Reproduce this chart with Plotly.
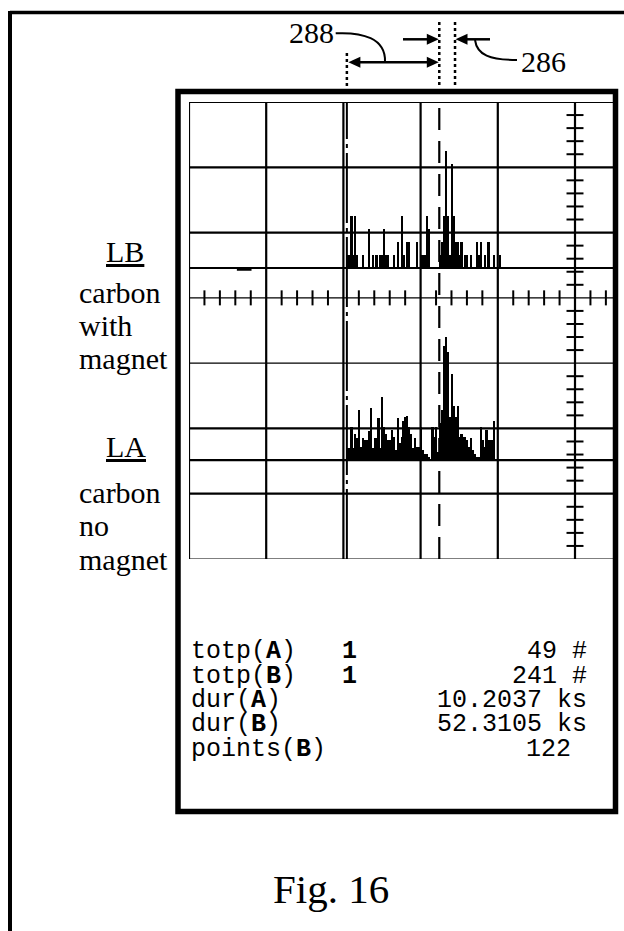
import plotly.graph_objects as go

FIG_W, FIG_H = 624, 931

# ---------------------------------------------------------------- data
BIN_DIV = 0.025        # histogram bin width, horizontal divisions
COUNTS_PER_DIV = 5     # vertical sensitivity

# LB - carbon with magnet (upper channel), counts per bin
lb_counts = [1, 1, 4, 1, 4, 1, 0, 0, 1, 0,
             0, 3, 0, 1, 0, 1, 0, 1, 1, 3,
             1, 1, 0, 0, 1, 0, 2, 0, 4, 1,
             0, 2, 2, 0, 0, 0, 2, 0, 1, 1,
             1, 4, 3, 0, 0, 0, 0, 0, 1, 2,
             4, 9, 4, 1, 8, 4, 2, 2, 1, 2,
             0, 1, 1, 0, 1, 0, 0, 2, 1, 2,
             0, 1, 0, 2, 0, 0, 1, 0, 0, 1]

# LA - carbon no magnet (lower channel), counts per bin
la_counts = [0.9, 0.9, 2.5, 0.9, 2.0, 1.7, 3.8, 1.0, 1.7, 1.5,
             1.5, 2.2, 4.0, 0.9, 1.7, 1.7, 3.2, 0.9, 4.8, 2.5,
             2.0, 1.5, 1.5, 2.3, 1.8, 0.8, 3.2, 1.3, 1.8, 3.0,
             3.3, 3.4, 2.5, 2.0, 0.9, 1.7, 1.0, 1.0, 2.5, 0.8,
             0.5, 0.5, 0.25, 0.0, 2.5, 1.8, 2.5, 0.6, 2.8, 3.8,
             8.7, 9.4, 8.3, 3.3, 6.6, 4.1, 3.3, 4.1, 1.8, 2.0,
             1.8, 1.8, 1.5, 1.0, 1.7, 0.8, 0.5, 0.25, 0.25, 2.5,
             1.5, 1.0, 2.3, 1.5, 1.5, 1.5, 3.0]

# cursors, horizontal divisions
cursor_start = 2.045
cursor_peak = 3.242
cursor_ref = 3.446

# channel baselines, vertical divisions
lb_base = 4.457
la_base = 1.516

readout_names = ["totp(<b>A</b>)", "totp(<b>B</b>)", "dur(<b>A</b>)",
                 "dur(<b>B</b>)", "points(<b>B</b>)"]
readout_values = ["49 #", "241 #", "10.2037 ks", "52.3105 ks", "122"]
readout_marks = ["<b>1</b>", "<b>1</b>", "", "", ""]

# ------------------------------------------------------------ geometry
SCR_L, SCR_R, SCR_T, SCR_B = 189, 613, 102, 559
DIV_X = 77.2
N_DIV_Y = 7
DIV_Y = (SCR_B - SCR_T) / N_DIV_Y
X_MAX = (SCR_R - SCR_L) / DIV_X


def div_to_px(x):
    return SCR_L + x * DIV_X


def px(x):
    return x / FIG_W


def py(y):
    return 1 - y / FIG_H


shapes = []
annotations = []


def line(x0, y0, x1, y1, w, ref="px", dash=None):
    ln = dict(color="black", width=w)
    if dash:
        ln["dash"] = dash
    if ref == "px":
        shapes.append(dict(type="line", x0=px(x0), y0=py(y0), x1=px(x1),
                           y1=py(y1), xref="paper", yref="paper", line=ln,
                           layer="above"))
    else:
        shapes.append(dict(type="line", x0=x0, y0=y0, x1=x1, y1=y1,
                           xref="x", yref="y", line=ln, layer="above"))


def path(points, w=0, fill=False, curve=False):
    p = [(px(a), py(b)) for a, b in points]
    if curve:
        d = "M {},{} C {},{} {},{} {},{}".format(*[v for pt in p for v in pt])
    else:
        d = "M " + " L ".join(f"{a},{b}" for a, b in p) + " Z"
    shapes.append(dict(type="path", path=d, xref="paper", yref="paper",
                       fillcolor="black" if fill else "rgba(0,0,0,0)",
                       line=dict(color="black", width=w), layer="above"))


def head(tip, y, direction, length=12, half=5.5):
    base = tip - direction * length
    path([(tip, y), (base, y - half), (base, y + half)], fill=True)


def text(x, y, s, size, family, xanchor="left"):
    annotations.append(dict(x=px(x), y=py(y), xref="paper", yref="paper",
                            text=s, showarrow=False, xanchor=xanchor,
                            yanchor="middle",
                            font=dict(family=family, size=size, color="black")))


# page frame
line(10, 12.5, FIG_W, 12.5, 3.5)
line(10, 11, 10, FIG_H, 4)

# instrument box
shapes.append(dict(type="rect", x0=px(178), y0=py(91.5), x1=px(615.5),
                   y1=py(811.5), xref="paper", yref="paper",
                   line=dict(color="black", width=5.5), layer="above"))

# screen graticule
thin_rows = {0, 3, 4}
for j in range(N_DIV_Y + 1):
    line(0, j, X_MAX, j, 1.2 if j in thin_rows else 2.2, ref="div")
for i in range(6):
    line(i, 0, i, N_DIV_Y, 2.2, ref="div")
for b in (lb_base, la_base):
    line(0, b, X_MAX, b, 2.2, ref="div")

# graticule minor ticks on the centre axes
for j in range(N_DIV_Y):
    for k in range(1, 5):
        yy = j + k / 5
        line(5 - 0.11, yy, 5 + 0.11, yy, 2, ref="div")
for i in range(6):
    for k in range(1, 5):
        xx = i + k / 5
        if xx < X_MAX - 0.05:
            line(xx, 4 - 0.115, xx, 4 + 0.115, 2, ref="div")

# small trace marker left of the upper channel
line(div_to_px(0.62), 269.5, div_to_px(0.81), 269.5, 2.5)

# cursors inside the screen
line(cursor_start, 0, cursor_start, N_DIV_Y, 2, ref="div",
     dash="70px,5px,4px,5px")
line(cursor_peak, 0, cursor_peak, N_DIV_Y, 2.2, ref="div", dash="22px,11px")

# cursor extensions above the box
xs, xp, xr = div_to_px(cursor_start), div_to_px(cursor_peak), div_to_px(cursor_ref)
line(xs, 53, xs, 88, 2.5, dash="dot")
line(xp, 22, xp, 88, 2.5, dash="dot")
line(xr, 22, xr, 88, 2.5, dash="dot")

# dimension arrows
line(xs + 8, 62.3, xp - 8, 62.3, 2.5)
head(xs + 1.5, 62.3, -1)
head(xp - 0.5, 62.3, 1)
line(403, 39.3, xp - 8, 39.3, 2.5)
head(xp - 0.5, 39.3, 1)
line(xr + 8, 39.3, 490, 39.3, 2.5)
head(xr + 0.5, 39.3, -1)

# leaders
path([(335.7, 33.3), (362, 32), (386, 38), (385, 62)], w=2, curve=True)
path([(475, 40), (477, 55), (490, 60), (517, 60)], w=2, curve=True)

# labels
SERIF = "Liberation Serif"
MONO = "Liberation Mono"
text(311, 32.8, "288", 30, SERIF, "center")
text(543, 61.8, "286", 30, SERIF, "center")

text(104, 251.8, "<u>LB</u>", 30, SERIF)
text(77, 292.8, "carbon", 30, SERIF)
text(77, 325.8, "with", 30, SERIF)
text(77, 358.8, "magnet", 30, SERIF)
text(104, 446.3, "<u>LA</u>", 30, SERIF)
text(77, 492.8, "carbon", 30, SERIF)
text(77, 525.8, "no", 30, SERIF)
text(77, 559.8, "magnet", 30, SERIF)

text(330.5, 889, "Fig. 16", 41, SERIF, "center")

# readout panel
row_baselines = [658, 683, 707, 731.5, 756.5]
for name, val, mark, yb in zip(readout_names, readout_values,
                               readout_marks, row_baselines):
    yc = yb - 6.75
    text(189, yc, name, 25, MONO)
    if mark:
        text(349, yc, mark, 25, MONO, "center")
    right = 573 if val.isdigit() else 589
    text(right, yc, val.replace(" ", "\u00a0"), 25, MONO, "right")

# ---------------------------------------------------------------- traces
fig = go.Figure()


def channel(counts, base):
    xs_ = [cursor_start + BIN_DIV * (i + 0.5) for i in range(len(counts))]
    ys_ = [c / COUNTS_PER_DIV for c in counts]
    return go.Bar(x=xs_, y=ys_, base=base, width=BIN_DIV * 0.85,
                  marker=dict(color="black", line=dict(width=0)),
                  showlegend=False, hoverinfo="skip")


fig.add_trace(channel(lb_counts, lb_base))
fig.add_trace(channel(la_counts, la_base))

hidden = dict(showgrid=False, zeroline=False, showticklabels=False,
              ticks="", showline=False, fixedrange=True)
fig.update_layout(
    width=FIG_W, height=FIG_H,
    margin=dict(l=0, r=0, t=0, b=0),
    paper_bgcolor="white", plot_bgcolor="white",
    barmode="overlay", bargap=0,
    xaxis=dict(domain=[px(SCR_L), px(SCR_R)], range=[0, X_MAX], **hidden),
    yaxis=dict(domain=[py(SCR_B), py(SCR_T)], range=[0, N_DIV_Y], **hidden),
    shapes=shapes,
    annotations=annotations,
)

fig.write_html("out.html")
